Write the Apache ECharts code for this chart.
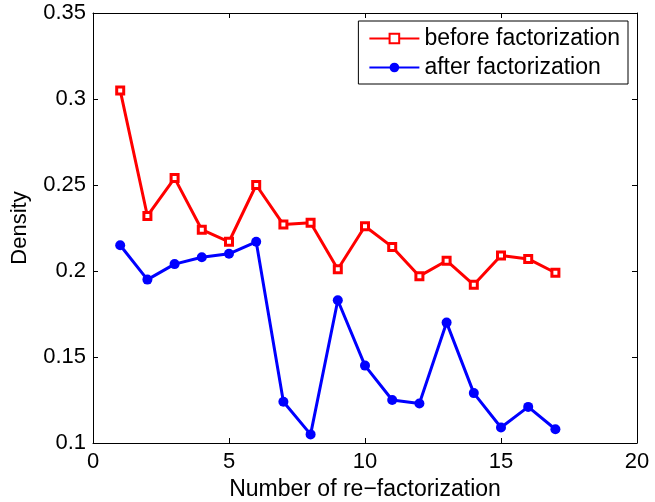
<!DOCTYPE html>
<html>
<head>
<meta charset="UTF-8">
<title>Density</title>
<script src="https://cdn.jsdelivr.net/npm/echarts@6/dist/echarts.min.js"></script>
<style>
body { margin: 0; background: #fff; }
#chart { width: 655px; height: 502px; }
</style>
</head>
<body>
<div id="chart"></div>
<script>
// values
var steps = [1, 2, 3, 4, 5, 6, 7, 8, 9, 10, 11, 12, 13, 14, 15, 16, 17];
var before = [0.305, 0.232, 0.254, 0.224, 0.217, 0.250, 0.227, 0.228, 0.201, 0.226, 0.214, 0.197, 0.206, 0.192, 0.209, 0.207, 0.199];
var after = [0.215, 0.195, 0.204, 0.208, 0.210, 0.217, 0.124, 0.105, 0.183, 0.145, 0.125, 0.123, 0.170, 0.129, 0.109, 0.121, 0.108];
var xTicks = [0, 5, 10, 15, 20];
var yTicks = [0.1, 0.15, 0.2, 0.25, 0.3, 0.35];

function pairs(xs, ys) {
	var out = [];
	for (var i = 0; i < xs.length; i++) out.push([xs[i], ys[i]]);
	return out;
}

var font = 'Liberation Sans, Arial, sans-serif';
var chart = echarts.init(document.getElementById('chart'));

var axisBase = {
	axisLine: { show: true, onZero: false, lineStyle: { color: '#000', width: 1 } },
	axisTick: { show: true, inside: true, length: 5, lineStyle: { color: '#000' } },
	splitLine: { show: false }
};

chart.setOption({
	animation: false,
	grid: { left: 93, right: 18, top: 13, bottom: 59, containLabel: false, outerBoundsMode: 'none' },
	legend: {
		right: 27, top: 21,
		orient: 'vertical',
		backgroundColor: '#fff',
		borderColor: '#000', borderWidth: 1,
		padding: [6, 8, 5, 10],
		itemWidth: 50, itemHeight: 12, itemGap: 6,
		textStyle: { fontFamily: font, fontSize: 23, color: '#000' },
		data: ['before factorization', 'after factorization']
	},
	xAxis: [
		Object.assign({
			type: 'value', min: 0, max: 20, interval: 5,
			name: 'Number of re\u2212factorization',
			nameLocation: 'middle', nameGap: 32,
			nameTextStyle: { fontFamily: font, fontSize: 23, color: '#000' },
			axisLabel: {
				fontFamily: font, fontSize: 22, color: '#000', margin: 8,
				formatter: function (v) { return xTicks.indexOf(v) >= 0 ? String(v) : ''; }
			}
		}, axisBase),
		Object.assign({
			type: 'value', min: 0, max: 20, interval: 5, position: 'top',
			axisLabel: { show: false }
		}, axisBase)
	],
	yAxis: [
		Object.assign({
			type: 'value', min: 0.1, max: 0.35, interval: 0.05,
			name: 'Density',
			nameLocation: 'middle', nameGap: 62,
			nameTextStyle: { fontFamily: font, fontSize: 22, color: '#000' },
			axisLabel: {
				fontFamily: font, fontSize: 22, color: '#000', margin: 7,
				formatter: function (v) {
					var r = Math.round(v * 100) / 100;
					return yTicks.indexOf(r) >= 0 ? String(r) : '';
				}
			}
		}, axisBase),
		Object.assign({
			type: 'value', min: 0.1, max: 0.35, interval: 0.05, position: 'right',
			axisLabel: { show: false }
		}, axisBase)
	],
	series: [
		{
			name: 'before factorization',
			type: 'line',
			data: pairs(steps, before),
			symbol: 'rect', symbolSize: 7,
			lineStyle: { color: '#ff0000', width: 3 },
			itemStyle: { color: '#fff', borderColor: '#ff0000', borderWidth: 3 }
		},
		{
			name: 'after factorization',
			type: 'line',
			data: pairs(steps, after),
			symbol: 'circle', symbolSize: 10,
			lineStyle: { color: '#0000ff', width: 3 },
			itemStyle: { color: '#0000ff', borderWidth: 0 }
		}
	]
});
</script>
</body>
</html>
